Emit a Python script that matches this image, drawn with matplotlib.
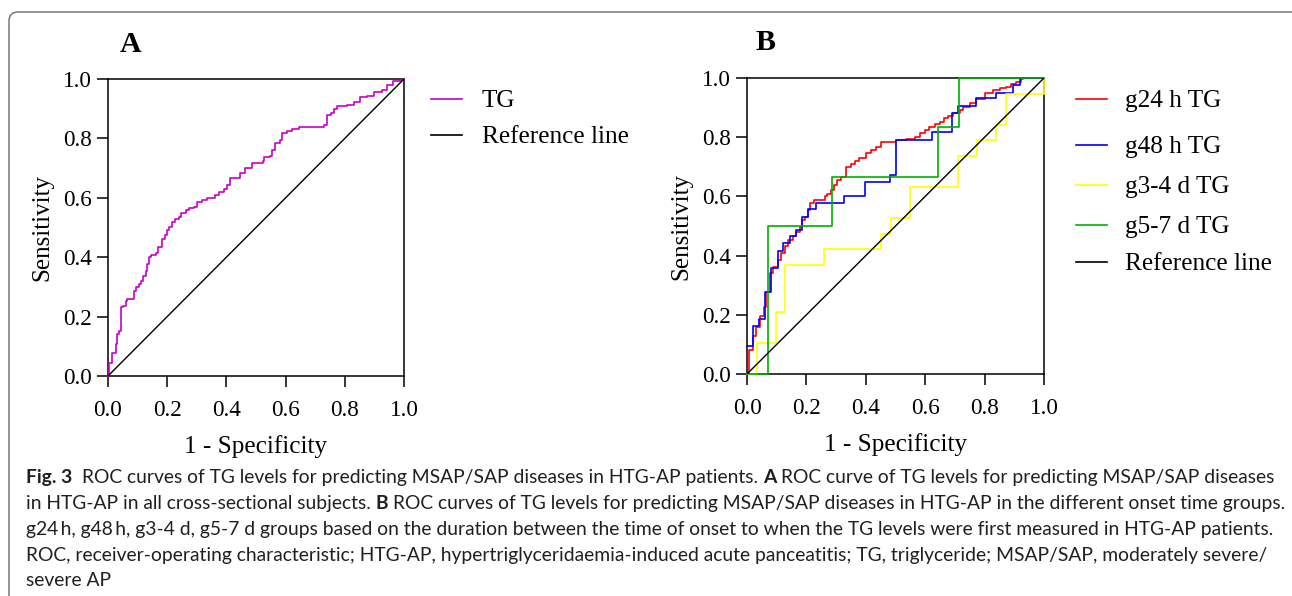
import matplotlib
matplotlib.use("Agg")
import matplotlib.pyplot as plt
from matplotlib.lines import Line2D
from matplotlib.patches import FancyBboxPatch
from matplotlib.transforms import IdentityTransform

# ROC data (1 - specificity, sensitivity), step tops
tg_fpr = [0, 0.003, 0.015, 0.026, 0.031, 0.037, 0.045, 0.052, 0.06, 0.065, 0.088, 0.093,
          0.104, 0.11, 0.119, 0.127, 0.133, 0.138, 0.144, 0.161, 0.169, 0.18, 0.183, 0.191,
          0.2, 0.206, 0.217, 0.228, 0.239, 0.247, 0.262, 0.273, 0.29, 0.301, 0.318, 0.333,
          0.363, 0.374, 0.391, 0.402, 0.413, 0.43, 0.447, 0.464, 0.487, 0.524, 0.528, 0.548,
          0.554, 0.565, 0.582, 0.588, 0.604, 0.621, 0.644, 0.703, 0.73, 0.739, 0.753, 0.762,
          0.773, 0.807, 0.831, 0.852, 0.874, 0.897, 0.925, 0.942, 0.964, 0.987, 1.0]
tg_tpr = [0, 0.045, 0.076, 0.107, 0.141, 0.152, 0.231, 0.237, 0.254, 0.259, 0.287, 0.299,
          0.31, 0.321, 0.338, 0.355, 0.378, 0.4, 0.406, 0.414, 0.434, 0.436, 0.462, 0.474,
          0.49, 0.502, 0.519, 0.527, 0.536, 0.549, 0.558, 0.564, 0.569, 0.586, 0.594, 0.601,
          0.609, 0.62, 0.631, 0.643, 0.665, 0.668, 0.684, 0.702, 0.718, 0.725, 0.738, 0.741,
          0.761, 0.784, 0.795, 0.817, 0.826, 0.831, 0.838, 0.84, 0.844, 0.879, 0.885, 0.899,
          0.91, 0.913, 0.924, 0.939, 0.944, 0.955, 0.964, 0.981, 0.992, 0.998, 1.0]

g24_fpr = [0, 0.007, 0.02, 0.029, 0.043, 0.056, 0.065, 0.079, 0.088, 0.104, 0.116, 0.127,
           0.138, 0.155, 0.166, 0.18, 0.186, 0.194, 0.205, 0.211, 0.224, 0.262, 0.269, 0.284,
           0.293, 0.303, 0.318, 0.334, 0.351, 0.363, 0.377, 0.402, 0.419, 0.435, 0.452, 0.503,
           0.536, 0.565, 0.581, 0.598, 0.613, 0.632, 0.649, 0.662, 0.677, 0.694, 0.716, 0.727,
           0.75, 0.772, 0.8, 0.828, 0.851, 0.873, 0.89, 0.907, 0.924, 0.929, 1.0]
g24_tpr = [0, 0.08, 0.127, 0.16, 0.195, 0.226, 0.276, 0.341, 0.363, 0.386, 0.408, 0.431,
           0.453, 0.465, 0.481, 0.498, 0.521, 0.532, 0.555, 0.577, 0.588, 0.6, 0.609, 0.622,
           0.639, 0.656, 0.667, 0.701, 0.709, 0.718, 0.731, 0.746, 0.757, 0.766, 0.785, 0.789,
           0.793, 0.802, 0.813, 0.825, 0.836, 0.845, 0.853, 0.864, 0.872, 0.883, 0.892, 0.901,
           0.915, 0.928, 0.948, 0.96, 0.965, 0.971, 0.98, 0.988, 0.996, 1.0, 1.0]

g48_fpr = [0, 0.02, 0.04, 0.06, 0.082, 0.104, 0.121, 0.144, 0.166, 0.185, 0.205, 0.231,
           0.325, 0.396, 0.48, 0.5, 0.624, 0.691, 0.71, 0.772, 0.837, 0.896, 0.918, 1.0]
g48_tpr = [0.093, 0.161, 0.186, 0.276, 0.358, 0.417, 0.442, 0.465, 0.487, 0.532, 0.557, 0.579,
           0.602, 0.65, 0.673, 0.789, 0.816, 0.883, 0.906, 0.931, 0.95, 0.976, 1.0, 1.0]

g34_fpr = [0, 0.032, 0.097, 0.129, 0.258, 0.452, 0.484, 0.548, 0.71, 0.774, 0.839, 0.871, 1.0]
g34_tpr = [0, 0.105, 0.211, 0.368, 0.421, 0.474, 0.526, 0.632, 0.737, 0.789, 0.842, 0.947, 1.0]

g57_fpr = [0, 0.071, 0.286, 0.643, 0.714, 1.0]
g57_tpr = [0, 0.5, 0.667, 0.833, 1.0, 1.0]

ticks = [0.0, 0.2, 0.4, 0.6, 0.8, 1.0]
tick_labels = ["0.0", "0.2", "0.4", "0.6", "0.8", "1.0"]

W, H = 1292, 596
serif = "Liberation Serif"
sans = "Lato"


def fx(px):
    return px / W


def fy(py):
    return 1 - py / H


fig = plt.figure(figsize=(W / 100, H / 100), dpi=100)

# rounded frame around the whole figure (right and bottom sides run off the page)
frame = FancyBboxPatch((9, -40), 1300, H - 12 + 40,
                       boxstyle="round,pad=0,rounding_size=9",
                       transform=IdentityTransform(), fill=False,
                       edgecolor="#6a6a6a", linewidth=1.0)
fig.add_artist(frame)

ax_a = fig.add_axes([fx(108), fy(376), fx(404) - fx(108), fy(79) - fy(376)])
ax_b = fig.add_axes([fx(747), fy(374), fx(1044) - fx(747), fy(78) - fy(374)])


def style_axis(ax):
    ax.set_xlim(0, 1)
    ax.set_ylim(0, 1)
    ax.set_xticks(ticks)
    ax.set_yticks(ticks)
    ax.set_xticklabels(tick_labels, fontfamily=serif, fontsize=16.7)
    ax.set_yticklabels(tick_labels, fontfamily=serif, fontsize=16.7)
    ax.tick_params(axis="both", direction="out", length=8, width=1.1, color="black")
    ax.tick_params(axis="x", pad=9)
    ax.tick_params(axis="y", pad=3.5)
    for sp in ax.spines.values():
        sp.set_linewidth(1.1)
    ax.set_xlabel("1 - Specificity", fontfamily=serif, fontsize=18.2, labelpad=10.5)
    ax.set_ylabel("Sensitivity", fontfamily=serif, fontsize=18, labelpad=7)
    # reference line
    ax.plot([0, 1], [0, 1], color="black", lw=1.0, zorder=5)


style_axis(ax_a)
ax_a.plot(tg_fpr, tg_tpr, drawstyle="steps-post", color="#c800c8", lw=1.2,
          zorder=4, clip_on=False)

style_axis(ax_b)
b_series = [
    (g24_fpr, g24_tpr, "#ff0000"),
    (g48_fpr, g48_tpr, "#0000ff"),
    (g34_fpr, g34_tpr, "#ffff00"),
    (g57_fpr, g57_tpr, "#00b000"),
]
for xs, ys, c in b_series:
    ax_b.plot(xs, ys, drawstyle="steps-post", color=c, lw=1.2, zorder=4, clip_on=False)

# panel letters
fig.text(fx(131), fy(51.5), "A", fontfamily=serif, fontweight="bold", fontsize=21.5,
         ha="center", va="baseline")
fig.text(fx(765.5), fy(50), "B", fontfamily=serif, fontweight="bold", fontsize=21.5,
         ha="center", va="baseline")

# legends, drawn by hand to keep the uneven row spacing
legend_a = [("TG", "#c800c8", 106.7), ("Reference line", "black", 143.3)]
legend_b = [("g24 h TG", "#ff0000", 106.7), ("g48 h TG", "#0000ff", 153.3),
            ("g3-4 d TG", "#ffff00", 193.3), ("g5-7 d TG", "#00b000", 233.3),
            ("Reference line", "black", 270)]


def draw_legend(entries, x0, x1, xt):
    for label, c, base in entries:
        fig.add_artist(Line2D([fx(x0), fx(x1)], [fy(base - 8), fy(base - 8)],
                              transform=fig.transFigure, color=c, lw=1.2))
        fig.text(fx(xt), fy(base), label, fontfamily=serif, fontsize=18.2,
                 ha="left", va="baseline")


draw_legend(legend_a, 431, 462, 482)
draw_legend(legend_b, 1076, 1107, 1125)

# caption with bold runs
cap_size = 13.9
cap_color = "#231f20"
renderer = fig.canvas.get_renderer()
probe1 = fig.text(0, 0, "a a", fontfamily=sans, fontsize=cap_size)
probe2 = fig.text(0, 0, "aa", fontfamily=sans, fontsize=cap_size)
space_w = probe1.get_window_extent(renderer).width - probe2.get_window_extent(renderer).width
probe1.remove()
probe2.remove()

caption = [
    (483.3, [("Fig. 3", True, 2),
             ("ROC curves of TG levels for predicting MSAP/SAP diseases in HTG-AP patients.", False, 1),
             ("A", True, 1),
             ("ROC curve of TG levels for predicting MSAP/SAP diseases", False, 0)]),
    (509.3, [("in HTG-AP in all cross-sectional subjects.", False, 1),
             ("B", True, 1),
             ("ROC curves of TG levels for predicting MSAP/SAP diseases in HTG-AP in the different onset time groups.", False, 0)]),
    (535.0, [("g24\u2009h, g48\u2009h, g3-4 d, g5-7 d groups based on the duration between the time of onset to when the TG levels were first measured in HTG-AP patients.", False, 0)]),
    (561.0, [("ROC, receiver-operating characteristic; HTG-AP, hypertriglyceridaemia-induced acute panceatitis; TG, triglyceride; MSAP/SAP, moderately severe/", False, 0)]),
    (586.5, [("severe AP", False, 0)]),
]

for base, runs in caption:
    x = 26
    for txt, bold, gap in runs:
        t = fig.text(fx(x), fy(base), txt, fontfamily=sans, fontsize=cap_size,
                     fontweight="bold" if bold else "normal", color=cap_color,
                     ha="left", va="baseline")
        bb = t.get_window_extent(renderer)
        x = bb.x1 + gap * space_w

fig.savefig("out.png", dpi=100)
